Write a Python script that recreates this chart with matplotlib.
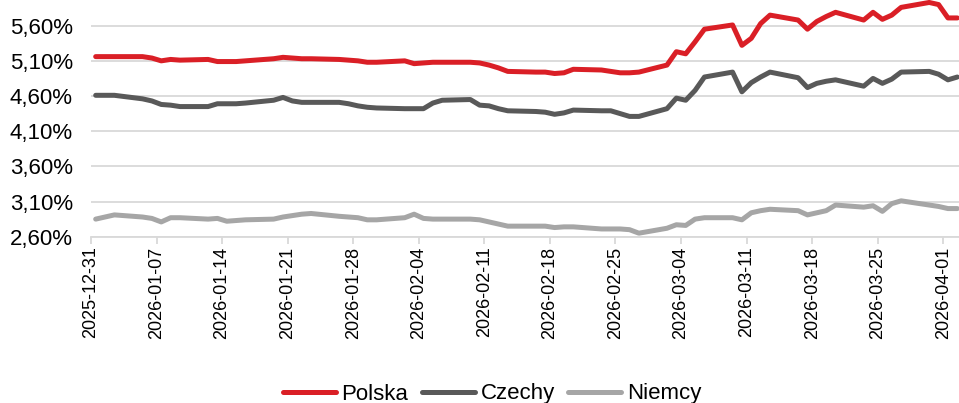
import numpy as np
import pandas as pd
import matplotlib
matplotlib.use("Agg")
import matplotlib.pyplot as plt
import matplotlib.dates as mdates
from matplotlib.ticker import FuncFormatter

plt.rcParams['font.family'] = ['Liberation Sans', 'DejaVu Sans']

dates = [
    "2025-12-31", "2026-01-02", "2026-01-05", "2026-01-06", "2026-01-07", "2026-01-08", "2026-01-09",
    "2026-01-12", "2026-01-13", "2026-01-14", "2026-01-15", "2026-01-16",
    "2026-01-19", "2026-01-20", "2026-01-21", "2026-01-22", "2026-01-23",
    "2026-01-26", "2026-01-27", "2026-01-28", "2026-01-29", "2026-01-30",
    "2026-02-02", "2026-02-03", "2026-02-04", "2026-02-05", "2026-02-06",
    "2026-02-09", "2026-02-10", "2026-02-11", "2026-02-12", "2026-02-13",
    "2026-02-16", "2026-02-17", "2026-02-18", "2026-02-19", "2026-02-20",
    "2026-02-23", "2026-02-24", "2026-02-25", "2026-02-26", "2026-02-27",
    "2026-03-02", "2026-03-03", "2026-03-04", "2026-03-05", "2026-03-06",
    "2026-03-09", "2026-03-10", "2026-03-11", "2026-03-12", "2026-03-13",
    "2026-03-16", "2026-03-17", "2026-03-18", "2026-03-19", "2026-03-20",
    "2026-03-23", "2026-03-24", "2026-03-25", "2026-03-26", "2026-03-27",
    "2026-03-30", "2026-03-31", "2026-04-01", "2026-04-02",
]

polska = [
    5.16, 5.16, 5.16, 5.14, 5.10, 5.12, 5.11,
    5.12, 5.09, 5.09, 5.09, 5.10,
    5.13, 5.15, 5.14, 5.13, 5.13,
    5.12, 5.11, 5.10, 5.08, 5.08,
    5.10, 5.06, 5.07, 5.08, 5.08,
    5.08, 5.07, 5.04, 5.00, 4.95,
    4.94, 4.94, 4.92, 4.93, 4.98,
    4.97, 4.95, 4.93, 4.93, 4.94,
    5.04, 5.23, 5.20, 5.37, 5.55,
    5.61, 5.32, 5.42, 5.63, 5.75,
    5.68, 5.55, 5.66, 5.73, 5.79,
    5.68, 5.79, 5.69, 5.75, 5.86,
    5.93, 5.90, 5.71, 5.71,
]

czechy = [
    4.61, 4.61, 4.56, 4.53, 4.48, 4.47, 4.45,
    4.45, 4.49, 4.49, 4.49, 4.50,
    4.54, 4.58, 4.53, 4.51, 4.51,
    4.51, 4.49, 4.46, 4.44, 4.43,
    4.42, 4.42, 4.42, 4.50, 4.54,
    4.55, 4.47, 4.46, 4.42, 4.39,
    4.38, 4.37, 4.34, 4.36, 4.40,
    4.39, 4.39, 4.35, 4.31, 4.31,
    4.42, 4.57, 4.54, 4.68, 4.87,
    4.94, 4.66, 4.79, 4.87, 4.94,
    4.86, 4.72, 4.78, 4.81, 4.83,
    4.74, 4.85, 4.78, 4.84, 4.94,
    4.95, 4.91, 4.83, 4.87,
]

niemcy = [
    2.85, 2.91, 2.88, 2.86, 2.81, 2.87, 2.87,
    2.85, 2.86, 2.82, 2.83, 2.84,
    2.85, 2.88, 2.90, 2.92, 2.93,
    2.89, 2.88, 2.87, 2.84, 2.84,
    2.87, 2.92, 2.86, 2.85, 2.85,
    2.85, 2.84, 2.81, 2.78, 2.75,
    2.75, 2.75, 2.73, 2.74, 2.74,
    2.71, 2.71, 2.71, 2.70, 2.65,
    2.72, 2.77, 2.76, 2.85, 2.87,
    2.87, 2.84, 2.94, 2.97, 2.99,
    2.97, 2.91, 2.94, 2.97, 3.05,
    3.02, 3.04, 2.96, 3.07, 3.11,
    3.05, 3.03, 3.00, 3.00,
]

series = [("Polska", polska, "#DA1F26"),
          ("Czechy", czechy, "#595959"),
          ("Niemcy", niemcy, "#A6A6A6")]

# points sit in the middle of each day slot
x = pd.to_datetime(dates) + pd.Timedelta(hours=12)

fig = plt.figure(figsize=(9.59, 4.03), dpi=100)
ax = fig.add_axes([91 / 959, 1 - 236.7 / 403, 871 / 959, 236.7 / 403])

for name, vals, col in series:
    ax.plot(x, vals, color=col, linewidth=3.6, label=name, solid_capstyle='round')

ax.set_ylim(2.60, 5.965)
ax.set_yticks(np.arange(2.60, 5.61, 0.5))
ax.yaxis.set_major_formatter(FuncFormatter(lambda v, p: f"{v:.2f}%".replace('.', ',')))
ax.grid(axis='y', color='#D9D9D9', linewidth=1.3)
ax.set_axisbelow(True)

ax.set_xlim(pd.Timestamp("2025-12-31"), pd.Timestamp("2026-04-03"))
ticks = pd.date_range("2025-12-31", "2026-04-01", freq="7D")
ax.set_xticks(ticks)
ax.xaxis.set_major_formatter(mdates.DateFormatter('%Y-%m-%d'))
for lab in ax.get_xticklabels():
    lab.set_rotation(90)

for s in ['top', 'right', 'left']:
    ax.spines[s].set_visible(False)
ax.spines['bottom'].set_color('#D9D9D9')
ax.spines['bottom'].set_linewidth(1.3)
ax.tick_params(axis='y', length=0, pad=13, labelsize=16, labelcolor='black')
ax.tick_params(axis='x', length=5, width=1.3, color='#D9D9D9', pad=2, labelsize=13)

fig.legend(loc='center', bbox_to_anchor=(492 / 959, 1 - 394 / 403), ncol=3, frameon=False,
           fontsize=16, handlelength=2.4, handletextpad=0.25, columnspacing=0.6)

fig.savefig('out.png', dpi=100)
